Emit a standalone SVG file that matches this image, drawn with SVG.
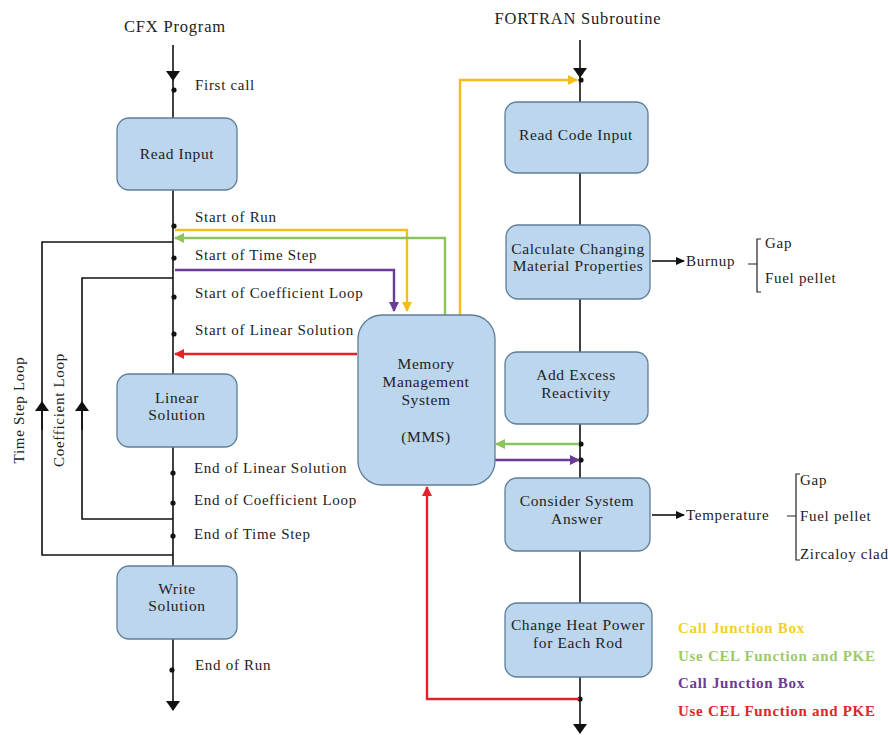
<svg xmlns="http://www.w3.org/2000/svg" width="888" height="735" viewBox="0 0 888 735" font-family="'Liberation Serif', 'DejaVu Serif', serif">
<style>
text{font-family:'Liberation Serif','DejaVu Serif',serif;fill:#222;}
.lbl{font-size:15px;letter-spacing:0.7px;}
.box rect{fill:#bcd6ee;stroke:#5f7d99;stroke-width:1.3;}
.box text{font-size:15.5px;letter-spacing:0.6px;text-anchor:middle;}
.k{stroke:#111;stroke-width:1.6;fill:none;}
.y{stroke:#f4bd1c;stroke-width:2.4;fill:none;}
.g{stroke:#8cc45c;stroke-width:2.4;fill:none;}
.p{stroke:#6a3a98;stroke-width:2.4;fill:none;}
.r{stroke:#e3232a;stroke-width:2.4;fill:none;}
.leg{font-size:15px;font-weight:bold;letter-spacing:0.7px;}
.ttl{font-size:16.5px;letter-spacing:0.8px;text-anchor:middle;}
</style>
<defs>
<marker id="ak" markerWidth="10" markerHeight="14" refX="9" refY="7" orient="auto" markerUnits="userSpaceOnUse"><path d="M0,0 L10,7 L0,14 z" fill="#111"/></marker>
<marker id="aks" markerWidth="9" markerHeight="8" refX="8" refY="4" orient="auto" markerUnits="userSpaceOnUse"><path d="M0,0 L9,4 L0,8 z" fill="#111"/></marker>
<marker id="ay" markerWidth="10" markerHeight="10" refX="9" refY="5" orient="auto" markerUnits="userSpaceOnUse"><path d="M0,0 L10,5 L0,10 z" fill="#f4bd1c"/></marker>
<marker id="ag" markerWidth="10" markerHeight="10" refX="9" refY="5" orient="auto" markerUnits="userSpaceOnUse"><path d="M0,0 L10,5 L0,10 z" fill="#8cc45c"/></marker>
<marker id="ap" markerWidth="10" markerHeight="10" refX="9" refY="5" orient="auto" markerUnits="userSpaceOnUse"><path d="M0,0 L10,5 L0,10 z" fill="#6a3a98"/></marker>
<marker id="ar" markerWidth="10" markerHeight="10" refX="9" refY="5" orient="auto" markerUnits="userSpaceOnUse"><path d="M0,0 L10,5 L0,10 z" fill="#e3232a"/></marker>
</defs>

<text class="ttl" x="175" y="32">CFX Program</text>
<text class="ttl" x="578" y="24">FORTRAN Subroutine</text>

<g id="connectors">
  <line class="k" x1="173" y1="45" x2="173" y2="80" marker-end="url(#ak)"/>
  <line class="k" x1="173" y1="80" x2="173" y2="118"/>
  <line class="k" x1="173" y1="190" x2="173" y2="374"/>
  <line class="k" x1="173" y1="447" x2="173" y2="566"/>
  <line class="k" x1="173" y1="639" x2="173" y2="710" marker-end="url(#ak)"/>
  <path class="k" d="M173,242 H42 V555 H173"/>
  <path class="k" d="M173,278 H82 V519 H173"/>
  <line class="k" x1="42" y1="430" x2="42" y2="402" marker-end="url(#ak)"/>
  <line class="k" x1="82" y1="430" x2="82" y2="402" marker-end="url(#ak)"/>
  <g fill="#111">
    <circle cx="174" cy="90" r="2.6"/>
    <circle cx="174" cy="226" r="2.6"/>
    <circle cx="174" cy="258" r="2.6"/>
    <circle cx="174" cy="297" r="2.6"/>
    <circle cx="174" cy="334" r="2.6"/>
    <circle cx="173" cy="473" r="2.6"/>
    <circle cx="173" cy="503" r="2.6"/>
    <circle cx="173" cy="536" r="2.6"/>
    <circle cx="172" cy="670" r="2.6"/>
  </g>
  <line class="k" x1="580" y1="40" x2="580" y2="77" marker-end="url(#ak)"/>
  <line class="k" x1="580" y1="77" x2="580" y2="102"/>
  <line class="k" x1="580" y1="173" x2="580" y2="225"/>
  <line class="k" x1="580" y1="299" x2="580" y2="352"/>
  <line class="k" x1="580" y1="424" x2="580" y2="478"/>
  <line class="k" x1="580" y1="551" x2="580" y2="603"/>
  <line class="k" x1="580" y1="677" x2="580" y2="733" marker-end="url(#ak)"/>
  <g fill="#111">
    <circle cx="581" cy="80" r="2.6"/>
    <circle cx="581" cy="444" r="2.6"/>
    <circle cx="581" cy="460" r="2.6"/>
    <circle cx="580" cy="699" r="2.6"/>
  </g>
  <path class="y" d="M175,230 H407 V311" marker-end="url(#ay)"/>
  <path class="g" d="M445,315 V238 H175" marker-end="url(#ag)"/>
  <path class="p" d="M175,270 H394 V311" marker-end="url(#ap)"/>
  <line class="r" x1="357" y1="354" x2="175" y2="354" marker-end="url(#ar)"/>
  <path class="y" d="M460,315 V80 H577" marker-end="url(#ay)"/>
  <line class="g" x1="579" y1="444" x2="496" y2="444" marker-end="url(#ag)"/>
  <line class="p" x1="495" y1="460" x2="579" y2="460" marker-end="url(#ap)"/>
  <path class="r" d="M579,699 H427 V487" marker-end="url(#ar)"/>
  <line class="k" x1="652" y1="261" x2="684" y2="261" marker-end="url(#aks)"/>
  <line class="k" x1="652" y1="515" x2="684" y2="515" marker-end="url(#aks)"/>
  <path stroke="#222" stroke-width="1.2" fill="none" d="M761,239 H757 V292 H761 M757,264 H748"/>
  <path stroke="#222" stroke-width="1.2" fill="none" d="M800,474 H796 V560 H800 M796,516 H787"/>
</g>

<g id="n-read-input" class="box"><rect x="117" y="118" width="120" height="72" rx="12"/><text x="177" y="159">Read Input</text></g>
<g id="n-linear-solution" class="box"><rect x="117" y="374" width="120" height="73" rx="12"/><text x="177" y="403">Linear</text><text x="177" y="420">Solution</text></g>
<g id="n-write-solution" class="box"><rect x="117" y="566" width="120" height="73" rx="12"/><text x="177" y="594">Write</text><text x="177" y="611">Solution</text></g>
<g id="n-mms" class="box"><rect x="358" y="315" width="137" height="170" rx="24"/><text x="426" y="369">Memory</text><text x="426" y="387">Management</text><text x="426" y="405">System</text><text x="426" y="442">(MMS)</text></g>
<g id="n-read-code-input" class="box"><rect x="505" y="102" width="143" height="71" rx="12"/><text x="576" y="140">Read Code Input</text></g>
<g id="n-calc-props" class="box"><rect x="506" y="225" width="144" height="74" rx="12"/><text x="578" y="254">Calculate Changing</text><text x="578" y="271">Material Properties</text></g>
<g id="n-excess" class="box"><rect x="505" y="352" width="143" height="72" rx="12"/><text x="576" y="380">Add Excess</text><text x="576" y="398">Reactivity</text></g>
<g id="n-consider" class="box"><rect x="505" y="478" width="145" height="73" rx="12"/><text x="577" y="506">Consider System</text><text x="577" y="524">Answer</text></g>
<g id="n-heat" class="box"><rect x="505" y="603" width="147" height="74" rx="12"/><text x="578" y="630">Change Heat Power</text><text x="578" y="648">for Each Rod</text></g>

<g id="labels" class="lbl">
  <text x="195" y="90">First call</text>
  <text x="195" y="222">Start of Run</text>
  <text x="195" y="260">Start of Time Step</text>
  <text x="195" y="298">Start of Coefficient Loop</text>
  <text x="195" y="335">Start of Linear Solution</text>
  <text x="194" y="473">End of Linear Solution</text>
  <text x="194" y="505">End of Coefficient Loop</text>
  <text x="194" y="539">End of Time Step</text>
  <text x="195" y="670">End of Run</text>
  <text transform="translate(24,410) rotate(-90)" text-anchor="middle">Time Step Loop</text>
  <text transform="translate(64,410) rotate(-90)" text-anchor="middle">Coefficient Loop</text>
  <text x="686" y="266">Burnup</text>
  <text x="765" y="248">Gap</text>
  <text x="765" y="283">Fuel pellet</text>
  <text x="686" y="520">Temperature</text>
  <text x="800" y="485">Gap</text>
  <text x="800" y="521">Fuel pellet</text>
  <text x="800" y="559">Zircaloy clad</text>
</g>

<g id="legend" class="leg">
  <text x="678" y="633" style="fill:#f2cf2a">Call Junction Box</text>
  <text x="678" y="661" style="fill:#9cca6a">Use CEL Function and PKE</text>
  <text x="678" y="688" style="fill:#6a3a98">Call Junction Box</text>
  <text x="678" y="716" style="fill:#e3232a">Use CEL Function and PKE</text>
</g>
</svg>
